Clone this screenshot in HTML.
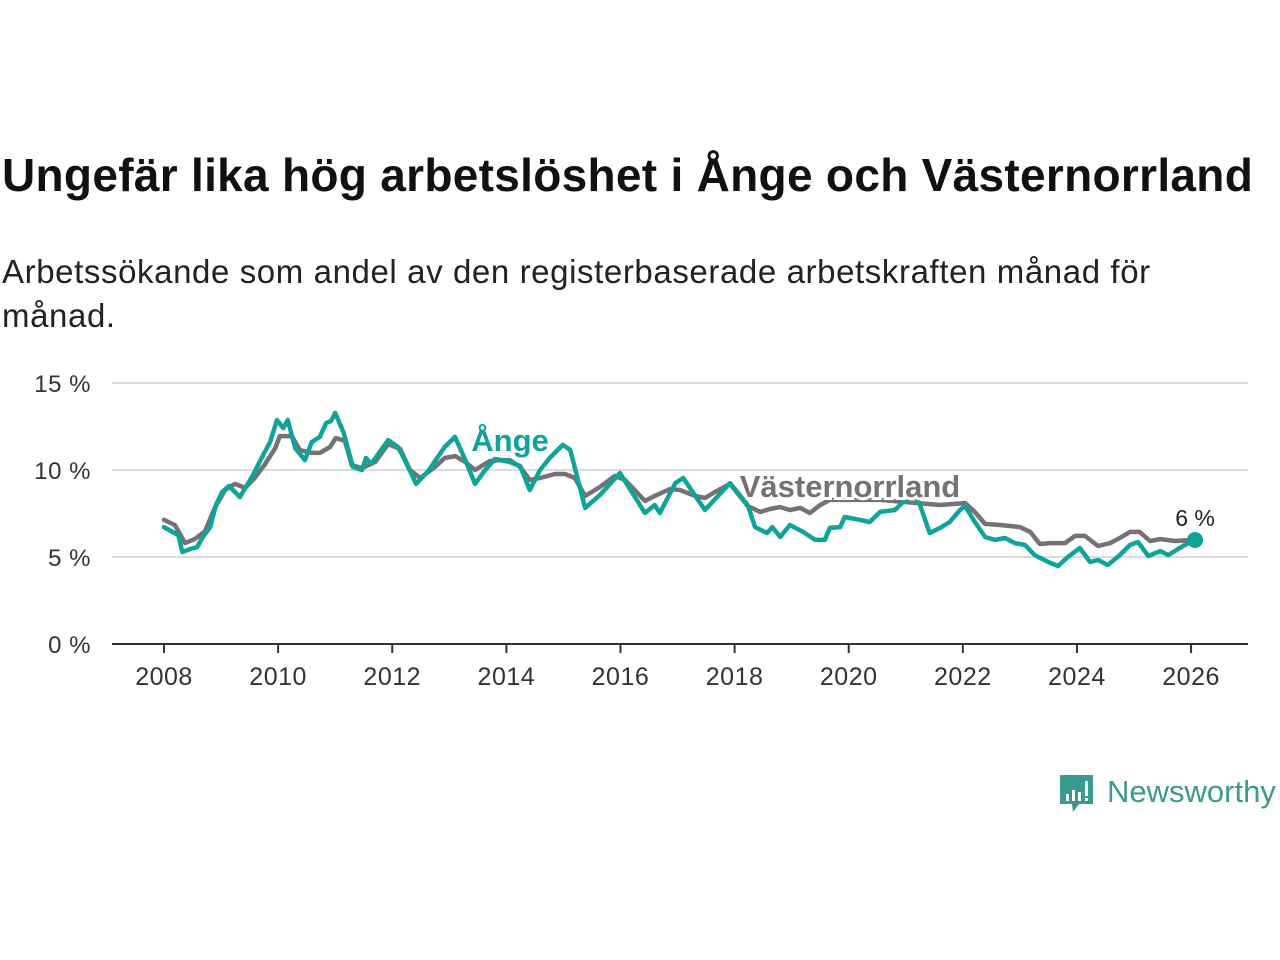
<!DOCTYPE html>
<html><head><meta charset="utf-8"><style>
body{margin:0;width:1280px;height:960px;background:#fff;font-family:"Liberation Sans",sans-serif;overflow:hidden;position:relative}
#title{position:absolute;left:2px;top:148px;font-size:46px;font-weight:bold;color:#111;white-space:nowrap;letter-spacing:0.3px}
#sub{position:absolute;left:2px;top:250px;font-size:33px;color:#222;line-height:44px;width:1270px;letter-spacing:0.6px}
svg{position:absolute;left:0;top:0}
</style></head><body>
<div id="title">Ungefär lika hög arbetslöshet i Ånge och Västernorrland</div>
<div id="sub">Arbetssökande som andel av den registerbaserade arbetskraften månad för<br>månad.</div>
<svg id="chart" width="1280" height="960"></svg>
<script>
const yTicks=[0,5,10,15];
const xTicks=[2008,2010,2012,2014,2016,2018,2020,2022,2024,2026];
const angeDates=[2008.00,2008.25,2008.32,2008.46,2008.58,2008.68,2008.81,2008.91,2009.02,2009.14,2009.33,2009.56,2009.72,2009.86,2009.98,2010.09,2010.17,2010.30,2010.47,2010.59,2010.73,2010.84,2010.93,2011.00,2011.15,2011.31,2011.47,2011.54,2011.63,2011.93,2012.10,2012.22,2012.42,2012.63,2012.92,2013.10,2013.29,2013.45,2013.63,2013.80,2014.06,2014.24,2014.41,2014.59,2014.76,2014.99,2015.12,2015.38,2015.64,2015.99,2016.43,2016.60,2016.69,2016.96,2017.10,2017.48,2017.92,2018.23,2018.36,2018.57,2018.66,2018.80,2018.97,2019.20,2019.41,2019.58,2019.67,2019.85,2019.93,2020.20,2020.37,2020.55,2020.81,2020.99,2021.16,2021.25,2021.42,2021.60,2021.77,2021.95,2022.04,2022.21,2022.39,2022.56,2022.74,2022.91,2023.09,2023.26,2023.53,2023.67,2023.84,2024.05,2024.23,2024.37,2024.54,2024.75,2024.93,2025.07,2025.25,2025.46,2025.60,2025.77,2025.89,2026.07];
const angeValues=[6.72,6.26,5.29,5.46,5.57,6.15,6.72,7.99,8.74,9.08,8.45,9.71,10.75,11.61,12.87,12.41,12.87,11.26,10.57,11.61,11.90,12.70,12.82,13.28,12.13,10.17,10.00,10.69,10.34,11.72,11.32,10.57,9.20,9.94,11.32,11.90,10.52,9.20,10.00,10.63,10.46,10.23,8.85,10.00,10.69,11.44,11.15,7.82,8.56,9.83,7.53,7.99,7.53,9.25,9.54,7.70,9.25,7.99,6.72,6.38,6.72,6.15,6.84,6.44,5.98,5.98,6.67,6.72,7.30,7.13,7.01,7.59,7.70,8.28,8.51,7.99,6.38,6.67,7.01,7.70,7.93,7.01,6.15,5.98,6.09,5.80,5.69,5.11,4.66,4.48,5.00,5.52,4.71,4.83,4.54,5.11,5.69,5.86,5.06,5.34,5.11,5.46,5.69,5.98];
const lanDates=[2008.00,2008.19,2008.37,2008.54,2008.72,2008.89,2009.07,2009.24,2009.42,2009.59,2009.77,2009.95,2010.03,2010.24,2010.38,2010.59,2010.73,2010.91,2011.01,2011.17,2011.29,2011.47,2011.70,2011.93,2012.14,2012.31,2012.49,2012.75,2012.92,2013.10,2013.28,2013.45,2013.71,2013.89,2014.06,2014.24,2014.41,2014.59,2014.85,2015.03,2015.20,2015.38,2015.64,2015.90,2016.08,2016.25,2016.43,2016.60,2016.87,2017.04,2017.31,2017.48,2017.66,2017.92,2018.23,2018.45,2018.62,2018.80,2018.97,2019.15,2019.32,2019.50,2019.67,2020.55,2021.60,2022.04,2022.21,2022.39,2022.65,2022.83,2023.00,2023.18,2023.35,2023.53,2023.79,2023.97,2024.14,2024.37,2024.58,2024.75,2024.93,2025.10,2025.28,2025.46,2025.72,2026.07];
const lanValues=[7.13,6.84,5.80,6.03,6.49,7.82,8.85,9.20,8.97,9.54,10.34,11.26,11.95,11.95,11.15,10.98,10.98,11.32,11.84,11.67,10.29,10.11,10.46,11.49,11.21,10.00,9.54,10.17,10.69,10.80,10.46,10.00,10.52,10.57,10.57,10.17,9.43,9.54,9.77,9.77,9.54,8.51,9.02,9.66,9.43,8.85,8.22,8.51,8.91,8.85,8.51,8.39,8.74,9.20,7.93,7.59,7.76,7.87,7.70,7.82,7.53,7.99,8.28,8.28,7.99,8.10,7.59,6.90,6.84,6.78,6.72,6.44,5.75,5.80,5.80,6.21,6.21,5.63,5.80,6.09,6.44,6.44,5.92,6.03,5.92,5.98];

const NS='http://www.w3.org/2000/svg';
const svg=document.getElementById('chart');
const X=y=>164+(y-2008)*57.06;
const Y=v=>644-v*17.4;
function mk(tag,attrs,parent){const e=document.createElementNS(NS,tag);for(const k in attrs)e.setAttribute(k,attrs[k]);(parent||svg).appendChild(e);return e;}
yTicks.forEach(t=>{
  if(t>0){const g=mk('line',{x1:112,x2:1248,y1:Y(t),y2:Y(t),stroke:'#dcdcdc','stroke-width':2});
  
  }
  const l=mk('text',{x:91,y:Y(t)+9,'text-anchor':'end','font-size':24,fill:'#333','font-family':'Liberation Sans, sans-serif','letter-spacing':0.5});
  l.textContent=t+' %';
  
  
});
const ax=mk('line',{x1:112,x2:1248,y1:644,y2:644,stroke:'#333','stroke-width':2});


xTicks.forEach(t=>{
  const tk=mk('line',{x1:X(t),x2:X(t),y1:644,y2:653,stroke:'#333','stroke-width':2});
  
  
  const l=mk('text',{x:X(t),y:685,'text-anchor':'middle','font-size':25,fill:'#333','font-family':'Liberation Sans, sans-serif','letter-spacing':0.5});
  l.textContent=t;
  
  
});
function path(d,v,color,name){
  const p=mk('path',{d:d.map((x,i)=>(i?'L':'M')+X(x).toFixed(1)+','+Y(v[i]).toFixed(1)).join(''),fill:'none',stroke:color,'stroke-width':4.5,'stroke-linejoin':'round','stroke-linecap':'round'});
  
  
}
path(lanDates,lanValues,'#747276','line-vasternorrland');
path(angeDates,angeValues,'#10a398','line-ange');
const dot=mk('circle',{cx:X(angeDates[angeDates.length-1]),cy:Y(angeValues[angeValues.length-1]),r:8,fill:'#10a398'});


const ev=mk('text',{x:X(angeDates[angeDates.length-1]),y:Y(angeValues[angeValues.length-1])-14,'text-anchor':'middle','font-size':23,fill:'#222','font-family':'Liberation Sans, sans-serif'});
ev.textContent=Math.round(angeValues[angeValues.length-1])+' %';


const la=mk('text',{x:510,y:451,'text-anchor':'middle','font-size':31,'font-weight':'bold',fill:'#10a398',stroke:'#fff','stroke-width':6,'paint-order':'stroke','font-family':'Liberation Sans, sans-serif'});
la.textContent='Ånge';


const lv=mk('text',{x:850,y:497,'text-anchor':'middle','font-size':31,'font-weight':'bold',fill:'#747276',stroke:'#fff','stroke-width':6,'paint-order':'stroke','font-family':'Liberation Sans, sans-serif'});
lv.textContent='Västernorrland';


const lg=mk('g',{});


mk('path',{d:'M1060,775 h33 v29 h-14 l-6,8 l-1,-8 h-12 z',fill:'#3a9a90'},lg);
mk('rect',{x:1066,y:794,width:3,height:7,fill:'#fff'},lg);
mk('rect',{x:1072,y:790,width:3,height:11,fill:'#fff'},lg);
mk('rect',{x:1078,y:792,width:3,height:9,fill:'#fff'},lg);
mk('rect',{x:1085,y:781,width:3,height:15,fill:'#fff'},lg);
mk('rect',{x:1085,y:798,width:3,height:3,fill:'#fff'},lg);
const lt=mk('text',{x:1107,y:802,'font-size':31,fill:'#3a9a90','font-family':'Liberation Sans, sans-serif'},lg);
lt.textContent='Newsworthy';
</script>
</body></html>
